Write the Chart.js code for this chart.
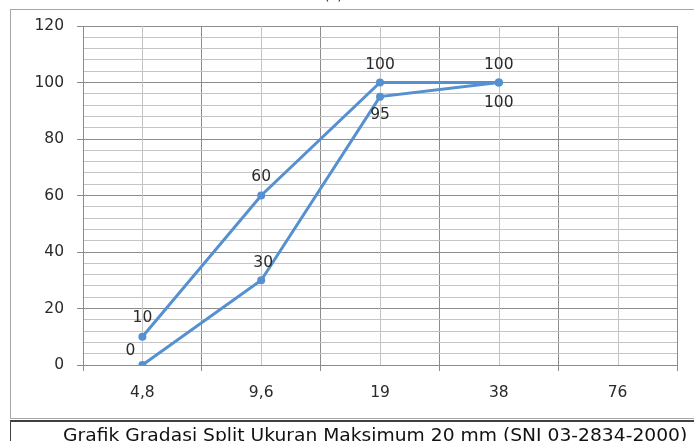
<!DOCTYPE html>
<html>
<head>
<meta charset="utf-8">
<script src="https://cdn.jsdelivr.net/npm/chart.js@4/dist/chart.umd.min.js"></script>
<style>
  html, body { margin: 0; padding: 0; background: #fff; overflow: hidden; }
  #wrap { position: relative; width: 694px; height: 441px; }
  #c { position: absolute; left: 0; top: 0; }
  #frame { position: absolute; left: 10px; top: 9px; width: 760px; height: 410px;
           border: 1px solid #a6a6a6; box-sizing: border-box; pointer-events: none; }
  #capbox { position: absolute; left: 10px; top: 420px; width: 760px; height: 40px;
            border: 1px solid #404040; border-top-width: 2px; box-sizing: border-box; }
  #caption { position: absolute; left: 63px; top: 425px; white-space: nowrap;
             font-family: "DejaVu Sans", sans-serif; font-size: 17px; color: #111;
             transform: scaleX(1.1); transform-origin: 0 0; }
  #tag { position: absolute; left: 324px; top: -13px; font-family: "DejaVu Sans", sans-serif;
         font-size: 14px; color: #222; }
</style>
</head>
<body>
<div id="wrap">
  <canvas id="c" width="694" height="441"></canvas>
  <div id="frame"></div>
  <div id="capbox"></div>
  <div id="caption">Grafik Gradasi Split Ukuran Maksimum 20 mm (SNI 03-2834-2000)</div>
  <div id="tag">(c)</div>
</div>
<script>
// Sieve sizes (mm) and passing percentages for the two grading limits
const sieveSizes = ['4,8', '9,6', '19', '38', '76'];
const upperLimit = [10, 60, 100, 100, null];
const lowerLimit = [0, 30, 95, 100, null];
const yTicksMajor = [0, 20, 40, 60, 80, 100, 120];

const lineColor = '#5590d0';
const fontFamily = '"DejaVu Sans", sans-serif';
const fontSize = 15.5;
const textColor = '#2a2a2a';

// label offsets (dx, dy) from each point, per series
const labelOffsets = [
  [[0, -19], [0, -19], [0, -18], [0, -18]],
  [[-12, -14], [2, -17], [0, 18], [0, 20]]
];

const pointLabels = {
  id: 'pointLabels',
  afterDatasetsDraw(chart) {
    const ctx = chart.ctx;
    ctx.save();
    ctx.font = fontSize + 'px ' + fontFamily;
    ctx.fillStyle = textColor;
    ctx.textAlign = 'center';
    ctx.textBaseline = 'middle';
    chart.data.datasets.forEach((ds, di) => {
      chart.getDatasetMeta(di).data.forEach((pt, i) => {
        const v = ds.data[i];
        if (v === null || v === undefined) return;
        const off = labelOffsets[di][i] || [0, -18];
        ctx.fillText(String(v), pt.x + off[0], pt.y + off[1]);
      });
    });
    ctx.restore();
  }
};

// light vertical lines through each category centre
const centreLines = {
  id: 'centreLines',
  beforeDatasetsDraw(chart) {
    const ctx = chart.ctx, x = chart.scales.x, a = chart.chartArea;
    ctx.save();
    ctx.strokeStyle = '#c4c4c4';
    ctx.lineWidth = 1;
    sieveSizes.forEach((_, i) => {
      const px = Math.round(x.getPixelForValue(i)) + 0.5;
      ctx.beginPath();
      ctx.moveTo(px, a.top);
      ctx.lineTo(px, a.bottom);
      ctx.stroke();
    });
    ctx.restore();
  }
};

new Chart(document.getElementById('c'), {
  type: 'line',
  data: {
    labels: sieveSizes,
    datasets: [
      { data: upperLimit, borderColor: lineColor, backgroundColor: lineColor,
        borderWidth: 3, pointRadius: 4, pointBorderWidth: 0, tension: 0 },
      { data: lowerLimit, borderColor: lineColor, backgroundColor: lineColor,
        borderWidth: 3, pointRadius: 4, pointBorderWidth: 0, tension: 0 }
    ]
  },
  options: {
    responsive: false,
    animation: false,
    layout: { padding: { left: 0, top: 26, right: 17, bottom: 0 } },
    plugins: { legend: { display: false }, tooltip: { enabled: false } },
    scales: {
      x: {
        offset: true,
        grid: { offset: true, color: '#8c8c8c', tickLength: 6, lineWidth: 1 },
        border: { color: '#8c8c8c' },
        ticks: { color: textColor, font: { family: fontFamily, size: fontSize }, padding: 13 },
        afterFit(s) { s.height = 76; }
      },
      y: {
        min: 0, max: 120,
        ticks: {
          stepSize: 4,
          autoSkip: false,
          color: textColor,
          font: { family: fontFamily, size: fontSize },
          padding: 13,
          callback: (v) => (yTicksMajor.includes(v) ? String(v) : '')
        },
        grid: {
          tickLength: 6,
          color: (c) => (c.tick && c.tick.value % 20 === 0 ? '#8c8c8c' : '#c4c4c4'),
          tickColor: (c) => (c.tick && c.tick.value % 20 === 0 ? '#8c8c8c' : 'rgba(0,0,0,0)')
        },
        border: { color: '#8c8c8c' },
        afterFit(s) { s.width = 83; }
      }
    }
  },
  plugins: [centreLines, pointLabels]
});
</script>
</body>
</html>
